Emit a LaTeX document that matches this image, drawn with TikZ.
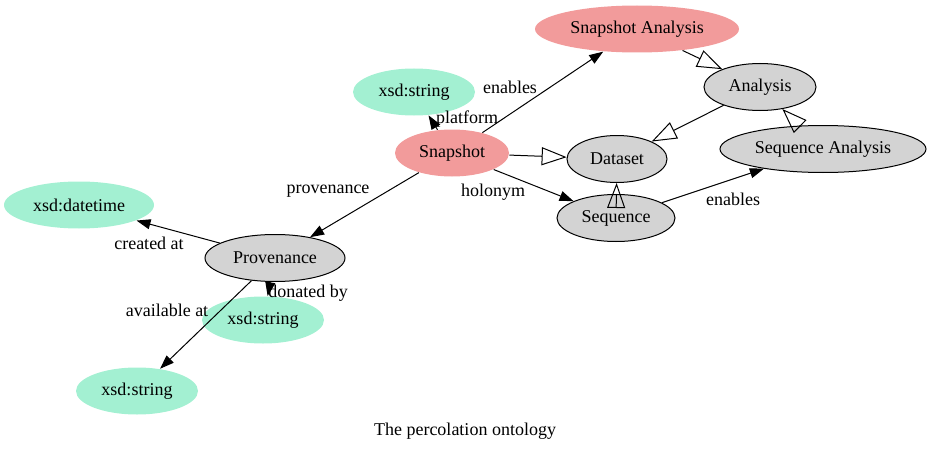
\documentclass[tikz,border=0pt]{standalone}
\usepackage{fontspec}
\setmainfont{Liberation Serif}
\usetikzlibrary{shapes.geometric,arrows.meta}
\definecolor{classpink}{RGB}{242,155,155}
\definecolor{literalgreen}{RGB}{163,240,210}
\definecolor{plaingray}{RGB}{211,211,211}

\begin{document}
\begin{tikzpicture}[x=1pt,y=-1pt,line width=1pt,
        every node/.style={font=\fontsize{18}{20}\selectfont},
        cls/.style={ellipse,draw=black,fill=plaingray,inner sep=0pt,minimum height=47pt},
        mainCls/.style={ellipse,fill=classpink,inner sep=0pt,minimum height=47pt},
        literal/.style={ellipse,fill=literalgreen,inner sep=0pt,minimum height=47pt},
        rel/.style={-{Triangle[length=14pt,width=10pt]}},
        isA/.style={-{Triangle[open,length=25pt,width=18pt]}}]
        \useasboundingbox (0, 0) rectangle (932, 452);

        % Classes
        \node[mainCls,minimum width=204pt] (snapAnalysis) at (637, 29) {Snapshot Analysis};
        \node[mainCls,minimum width=114pt] (snapshot) at (452, 153) {Snapshot};
        \node[cls,minimum width=112pt] (analysis) at (760, 87) {Analysis};
        \node[cls,minimum width=100pt] (dataset) at (617, 159) {Dataset};
        \node[cls,minimum width=206pt] (seqAnalysis) at (823, 149) {Sequence Analysis};
        \node[cls,minimum width=118pt] (sequence) at (616, 218) {Sequence};
        \node[cls,minimum width=140pt] (provenance) at (275, 258) {Provenance};

        % Literals
        \node[literal,minimum width=122pt] (platformStr) at (414, 92) {xsd:string};
        \node[literal,minimum width=150pt] (createdDate) at (79, 205) {xsd:datetime};
        \node[literal,minimum width=122pt] (donorStr) at (263, 320) {xsd:string};
        \node[literal,minimum width=122pt] (sourceStr) at (137, 391) {xsd:string};

        % Relations
        \draw[rel] (snapshot) -- (snapAnalysis);
        \draw[rel] (snapshot) -- (platformStr);
        \draw[rel] (snapshot) -- (sequence);
        \draw[rel] (snapshot) -- (provenance);
        \draw[rel] (sequence) -- (seqAnalysis);
        \draw[rel] (provenance) -- (createdDate);
        \draw[rel] (provenance) -- (donorStr);
        \draw[rel] (provenance) -- (sourceStr);

        % Subclasses
        \draw[isA] (snapshot) -- (dataset);
        \draw[isA] (snapAnalysis) -- (analysis);
        \draw[isA] (analysis) -- (dataset);
        \draw[isA] (seqAnalysis) -- (analysis);
        \draw[isA] (sequence) -- (dataset);

        % Edge labels
        \node (enablesTop) at (510, 87) {enables};
        \node (platformLbl) at (467, 119) {platform};
        \node (provLbl) at (328, 191) {provenance};
        \node (holonymLbl) at (493, 192) {holonym};
        \node (enablesLow) at (733, 199) {enables};
        \node (createdLbl) at (149, 243) {created at};
        \node (donatedLbl) at (308, 293) {donated by};
        \node (availLbl) at (167, 310) {available at};

        \node (caption) at (465, 431) {The percolation ontology};
    \end{tikzpicture}
\end{document}
